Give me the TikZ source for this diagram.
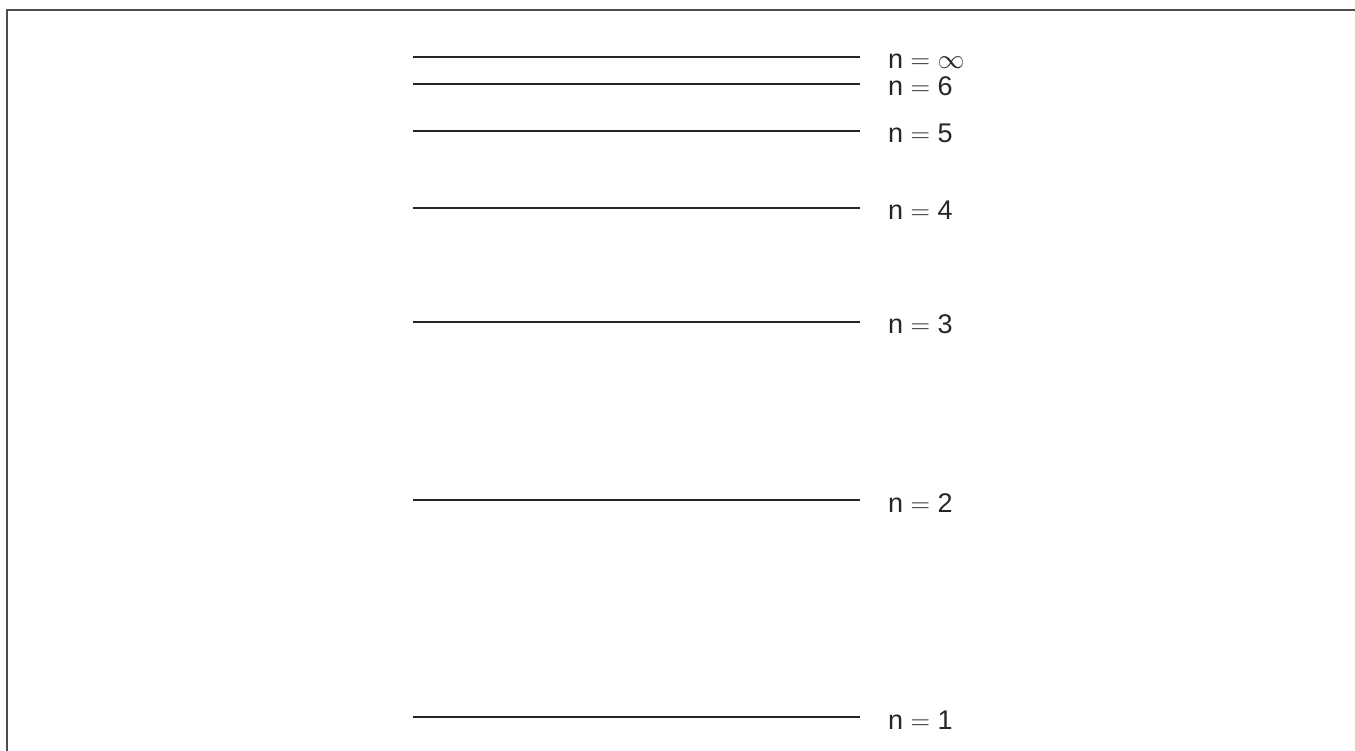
\RequirePackage{fix-cm}
\documentclass[tikz,border=0pt]{standalone}
\usepackage{fontspec}
\setmainfont{Liberation Sans}
\begin{document}
\begin{tikzpicture}[x=1pt,y=-1pt,
  level/.style={line width=1.6pt,draw=black!85},
  lab/.style={anchor=base west,inner sep=0pt,font=\fontsize{27}{31}\selectfont,text=black!85},
  frame/.style={line width=2pt,draw=black!70}]
\useasboundingbox (0,0) rectangle (1355,751);
\coordinate (fbl) at (7,751);
\coordinate (ftl) at (7,10);
\coordinate (ftr) at (1355,10);
\draw[frame] (fbl) -- (ftl) -- (ftr);
\foreach \y/\t/\n in {57/\ensuremath{\infty}/inf,84/6/six,131/5/five,208/4/four,322/3/three,500/2/two,717/1/one}{
  \coordinate (a\n) at (413,\y);
  \coordinate (b\n) at (860,\y);
  \draw[level] (a\n) -- (b\n);
  \node[lab] (t\n) at ([xshift=28pt,yshift=-12pt]b\n) {n $=$ \t};
}
\end{tikzpicture}
\end{document}
